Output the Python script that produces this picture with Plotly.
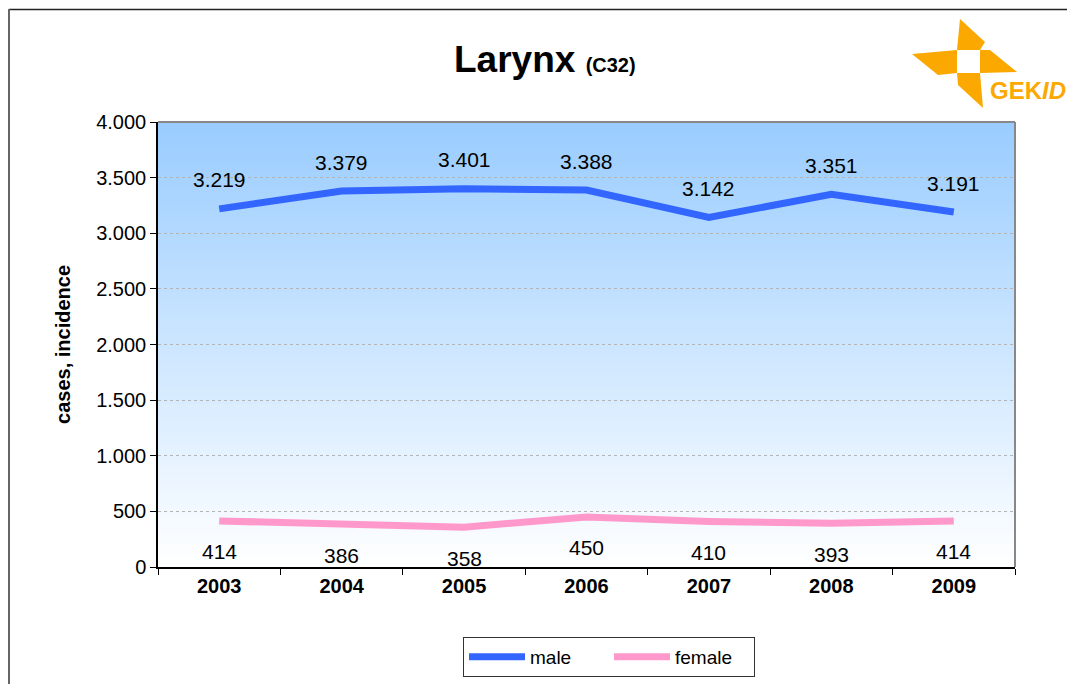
import plotly.graph_objects as go

years = ["2003", "2004", "2005", "2006", "2007", "2008", "2009"]
male = [3219, 3379, 3401, 3388, 3142, 3351, 3191]
female = [414, 386, 358, 450, 410, 393, 414]
y_ticks = [0, 500, 1000, 1500, 2000, 2500, 3000, 3500, 4000]

W, H = 1075, 684
OFF = 8  # page body margin
# plot area in page pixels
PL, PR, PT, PB = 158, 1015, 122, 567
L, R, T, B = PL - OFF, PR - OFF, PT - OFF, PB - OFF

def px(x):
    return (x - OFF - L) / (R - L)

def py(y):
    return (B - (y - OFF)) / (B - T)

fig = go.Figure()
fig.add_trace(go.Scatter(x=years, y=male, mode="lines", name="male",
                         line=dict(color="#3366FF", width=7)))
fig.add_trace(go.Scatter(x=years, y=female, mode="lines", name="female",
                         line=dict(color="#FF99CC", width=7)))

font = "Liberation Sans, Arial, sans-serif"

def fmt(v):
    return f"{v:,}".replace(",", ".")

annotations = []
for i, v in enumerate(male):
    annotations.append(dict(xref="x", yref="y", x=i, y=v, text=fmt(v), showarrow=False,
                            xanchor="center", yanchor="middle", yshift=29,
                            font=dict(size=21, color="black", family=font)))
for i, v in enumerate(female):
    annotations.append(dict(xref="x", yref="y", x=i, y=v, text=fmt(v), showarrow=False,
                            xanchor="center", yanchor="middle", yshift=-31,
                            font=dict(size=21, color="black", family=font)))

# title
annotations.append(dict(xref="paper", yref="paper", x=px(545), y=py(60), showarrow=False,
                        xanchor="center", yanchor="middle",
                        text="<b>Larynx</b> <b><span style='font-size:20px'>(C32)</span></b>",
                        font=dict(size=37, color="black", family=font)))
# logo text
annotations.append(dict(xref="paper", yref="paper", x=px(988), y=py(91), showarrow=False,
                        xanchor="left", yanchor="middle",
                        text="<b>GEK<i>ID</i></b>",
                        font=dict(size=24, color="#FBA900", family=font)))

shapes = []
# gradient background
n = 80
top = (153, 204, 255)
bot = (255, 255, 255)
for i in range(n):
    t = (i + 0.5) / n
    c = tuple(round(top[k] + (bot[k] - top[k]) * t) for k in range(3))
    shapes.append(dict(type="rect", xref="x domain", yref="y domain",
                       x0=0, x1=1, y0=1 - (i + 1) / n, y1=1 - i / n + 0.002,
                       fillcolor=f"rgb{c}", line=dict(width=0), layer="below"))
# plot border top/right gray
shapes.append(dict(type="line", xref="paper", yref="paper", x0=0, x1=1, y0=1, y1=1,
                   line=dict(color="#888888", width=2)))
shapes.append(dict(type="line", xref="paper", yref="paper", x0=1, x1=1, y0=0, y1=1,
                   line=dict(color="#888888", width=2)))
# outer frame
shapes.append(dict(type="line", xref="paper", yref="paper", x0=px(9), x1=px(1100),
                   y0=py(9.5), y1=py(9.5), line=dict(color="#222222", width=1.5)))
shapes.append(dict(type="line", xref="paper", yref="paper", x0=px(9), x1=px(9),
                   y0=py(9), y1=py(720), line=dict(color="#666666", width=2)))

# logo pinwheel
def poly(pts):
    return "M " + " L ".join(f"{px(a):.5f},{py(b):.5f}" for a, b in pts) + " Z"

blades = [
    [(960, 19), (985, 42), (980, 50), (957, 50)],
    [(912, 54), (957, 50), (957, 73), (938, 75)],
    [(980, 50), (990, 50), (1017, 72), (980, 73)],
    [(957, 73), (980, 73), (983, 108), (958, 85)],
]
for b in blades:
    shapes.append(dict(type="path", xref="paper", yref="paper", path=poly(b),
                       fillcolor="#FBA900", line=dict(width=0)))

fig.update_layout(
    width=W, height=H,
    margin=dict(l=L, r=W - R, t=T, b=H - B, pad=0),
    paper_bgcolor="white", plot_bgcolor="rgba(0,0,0,0)",
    showlegend=True,
    legend=dict(orientation="h", x=px(609), xanchor="center", y=py(637), yanchor="top",
                bordercolor="#333333", borderwidth=1, bgcolor="white",
                font=dict(size=19, color="black", family=font),
                itemwidth=56, entrywidth=74, tracegroupgap=0),
    xaxis=dict(type="category", showline=True, linecolor="black", linewidth=1.5,
               ticks="outside", tickson="boundaries", ticklen=6, tickcolor="black",
               showgrid=False, tickfont=dict(size=20, color="black", family=font),
               tickprefix="<b>", ticksuffix="</b>", range=[-0.5, 6.5]),
    yaxis=dict(range=[0, 4000], tickvals=y_ticks, ticktext=[fmt(v) for v in y_ticks],
               showline=True, linecolor="black", linewidth=1.5,
               ticks="outside", ticklen=6, tickcolor="black",
               showgrid=True, gridcolor="#B4B4B4", griddash="dot", gridwidth=1,
               zeroline=False,
               tickfont=dict(size=20, color="black", family=font),
               title=dict(text="<b>cases, incidence</b>", standoff=20,
                          font=dict(size=20, color="black", family=font))),
    annotations=annotations,
    shapes=shapes,
)

fig.write_html("out.html")
